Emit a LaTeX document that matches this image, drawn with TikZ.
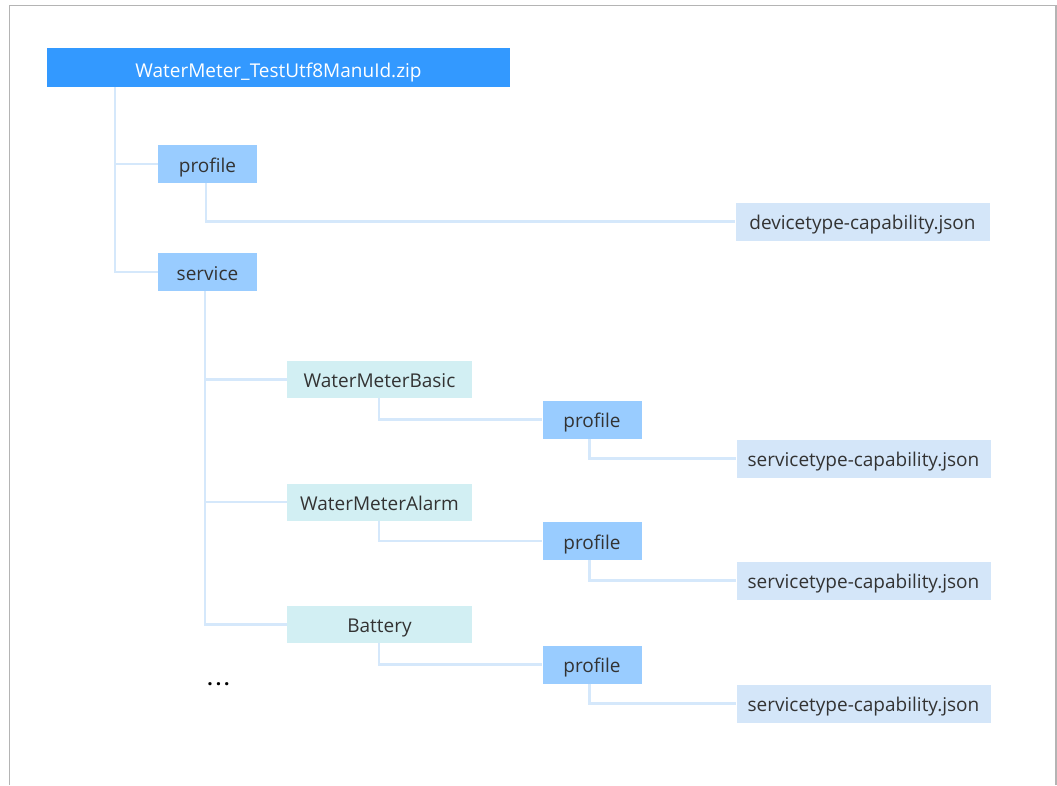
\documentclass[tikz,border=0pt]{standalone}
\usepackage{fontspec}
\setmainfont{Open Sans}
\definecolor{rootblue}{HTML}{3399FF}
\definecolor{dirblue}{HTML}{99CCFF}
\definecolor{fileblue}{HTML}{D4E6F9}
\definecolor{svccyan}{HTML}{D2EFF3}
\definecolor{linecol}{HTML}{D5E8FB}
\definecolor{txt}{HTML}{333333}
\definecolor{framecol}{HTML}{B4B4B4}
\tikzset{
  box/.style={draw=none, inner sep=0pt, text=txt, font=\fontsize{19}{22}\selectfont,
    text height=16pt, text depth=0pt},
  rootbox/.style={box, fill=rootblue, text=white, minimum width=463pt, minimum height=39pt,
    text height=20pt, text depth=1pt},
  dirbox/.style={box, fill=dirblue, minimum width=99pt, minimum height=38pt},
  filebox/.style={box, fill=fileblue, minimum width=254pt, minimum height=38pt},
  svcbox/.style={box, fill=svccyan, minimum width=185pt, minimum height=37pt},
  conn/.style={draw=linecol, line width=2.5pt},
}
\begin{document}
\begin{tikzpicture}[x=1pt,y=-1pt]
\useasboundingbox (0,0) rectangle (1057,785);
\draw[framecol, line width=1.5pt] (9.5,785) -- (9.5,5.5) -- (1056,5.5) -- (1056,785);

\node[rootbox] (root) at (278.5,67.5) {WaterMeter\_TestUtf8ManuId.zip};
\node[dirbox] (p1) at (207.5,164) {profile};
\node[dirbox] (svc) at (207.5,272) {service};
\node[filebox] (dev) at (862.5,221.5) {devicetype-capability.json};

\node[svcbox] (wmb) at (379.5,379.5) {WaterMeterBasic};
\node[dirbox] (p2) at (592,419.5) {profile};
\node[filebox] (st1) at (863.5,458.5) {servicetype-capability.json};

\node[svcbox] (wma) at (379.5,502) {WaterMeterAlarm};
\node[dirbox] (p3) at (592,541) {profile};
\node[filebox] (st2) at (863.5,580.5) {servicetype-capability.json};

\node[svcbox] (bat) at (379.5,624.5) {Battery};
\node[dirbox] (p4) at (592,664.5) {profile};
\node[filebox] (st3) at (863.5,703.5) {servicetype-capability.json};

\node[box, text=black, font=\fontsize{19}{22}\selectfont\bfseries] (dots) at (218.5,677) {.\kern3pt.\kern3pt.};

\draw[conn] ([xshift=68pt]root.south west) |- (p1.west);
\draw[conn] ([xshift=68pt]root.south west) |- (svc.west);
\draw[conn] ([xshift=48pt]p1.south west) |- (dev.west);
\draw[conn] ([xshift=47pt]svc.south west) |- (wmb.west);
\draw[conn] ([xshift=47pt]svc.south west) |- (wma.west);
\draw[conn] ([xshift=47pt]svc.south west) |- (bat.west);
\draw[conn] ([xshift=92pt]wmb.south west) |- (p2.west);
\draw[conn] ([xshift=92pt]wma.south west) |- (p3.west);
\draw[conn] ([xshift=92pt]bat.south west) |- (p4.west);
\draw[conn] ([xshift=47pt]p2.south west) |- (st1.west);
\draw[conn] ([xshift=47pt]p3.south west) |- (st2.west);
\draw[conn] ([xshift=47pt]p4.south west) |- (st3.west);
\end{tikzpicture}
\end{document}
